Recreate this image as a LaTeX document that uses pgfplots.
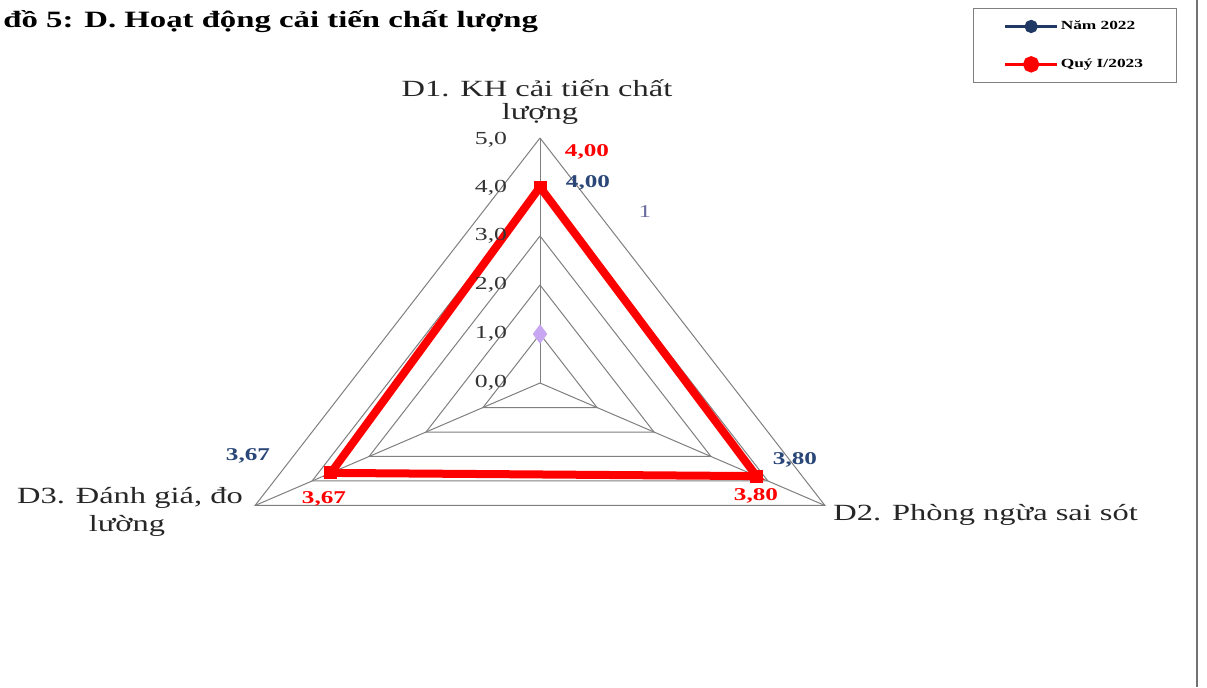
\documentclass[border=0pt]{standalone}
\usepackage{fontspec}
\setmainfont{Liberation Serif}[FakeStretch=1.4]
\usepackage{pgfplots}
\usepackage{pgfplotstable}
\pgfplotsset{compat=1.18}
\definecolor{redline}{HTML}{FF0000}
\definecolor{navyline}{HTML}{1F3864}
\definecolor{navytxt}{HTML}{2A4778}
\definecolor{gridc}{HTML}{7F7F7F}
\definecolor{lilac}{HTML}{C8A6F2}
\definecolor{onec}{HTML}{6A6A9E}

% angle (deg), score
\pgfplotstableread{
ang r
90 4.00
-30 3.80
210 3.67
90 4.00
}\namA
\pgfplotstableread{
ang r
90 4.00
-30 3.80
210 3.67
90 4.00
}\namB

\begin{document}
\begin{tikzpicture}
\path[use as bounding box] (0,0) rectangle (603.5pt,343.5pt);
\begin{axis}[
  at={(0,0)}, anchor=south west,
  scale only axis, width=603.5pt, height=343.5pt,
  hide axis, clip=false,
  xmin=-8.2067, xmax=10.1368, ymin=-6.2041, ymax=7.8163,
  legend style={at={(0.8061,0.98836)}, anchor=north west,
    draw=gridc, line width=0.6pt, fill=white,
    inner xsep=15pt, inner ysep=5pt, row sep=11pt,
    font=\fontsize{6.2}{7}\selectfont\bfseries,
    nodes={inner sep=1pt, text width=42pt, align=left}},
  legend cell align=left,
]
% grid rings
\foreach \k in {1,...,5}{
  \addplot[gridc, line width=0.5pt, data cs=polar, forget plot]
    coordinates {(90,\k) (-30,\k) (210,\k) (90,\k)};
}
\addplot[gridc, line width=0.5pt, data cs=polar, forget plot] coordinates {(90,0) (90,5)};
\addplot[gridc, line width=0.5pt, data cs=polar, forget plot] coordinates {(-30,0) (-30,5)};
\addplot[gridc, line width=0.5pt, data cs=polar, forget plot] coordinates {(210,0) (210,5)};

\addplot[navyline, line width=2.5pt, data cs=polar, mark=*, mark size=2.5pt,
  mark options={line width=0.5pt},
  legend image code/.code={\draw[navyline,line width=1.6pt] (0pt,0pt)--(26pt,0pt);
    \fill[navyline] (13pt,0pt) circle (2pt);}]
  table[x=ang,y=r] {\namA};
\addlegendentry{Năm 2022}
\addplot[redline, line width=4pt, data cs=polar, mark=square*, mark size=3pt,
  mark options={solid, line width=0.5pt}, line join=miter,
  legend image code/.code={\draw[redline,line width=1.6pt] (0pt,0pt)--(26pt,0pt);
    \fill[redline] (13pt,0pt) circle (2pt);}]
  table[x=ang,y=r] {\namB};
\addlegendentry{Quý I/2023}
\addplot[only marks, mark=diamond*, mark size=4.5pt, color=lilac, data cs=polar, forget plot]
  coordinates {(90,1)};
\end{axis}

\begin{scope}[x=0.5pt, y=-0.5pt, yshift=343.5pt]
\draw[gridc!90!black, line width=1pt] (1197,0) -- (1197,687);
\node[anchor=west, font=\fontsize{11.7}{13}\selectfont\bfseries, inner sep=0pt] at (3,22)
  {đồ 5: D. Hoạt động cải tiến chất lượng};
\begin{scope}[every node/.style={font=\fontsize{11.6}{13}\selectfont, inner sep=0pt, text=black!85}]
\node at (537,88) {D1. KH cải tiến chất};
\node at (540,114) {lượng};
\node[anchor=west] at (833,515) {D2. Phòng ngừa sai sót};
\node at (130,498) {D3. Đánh giá, đo};
\node at (127,526) {lường};
\end{scope}
\begin{scope}[every node/.style={font=\fontsize{9.2}{10}\selectfont, inner sep=0pt, text=black!80}]
\node at (491,140) {5,0};
\node at (491,188) {4,0};
\node at (491,236) {3,0};
\node at (491,285) {2,0};
\node at (491,334) {1,0};
\node at (491,383) {0,0};
\end{scope}
\begin{scope}[every node/.style={font=\fontsize{9}{10}\selectfont\bfseries, inner sep=0pt}]
\node[text=redline] at (587,152) {4,00};
\node[text=navytxt] at (588,183) {4,00};
\node[text=redline] at (756,496) {3,80};
\node[text=navytxt] at (795,460) {3,80};
\node[text=navytxt] at (248,456) {3,67};
\node[text=redline] at (324,499) {3,67};
\end{scope}
\node[text=onec, font=\fontsize{9}{10}\selectfont, inner sep=0pt] at (645,212) {1};
\end{scope}
\end{tikzpicture}
\end{document}
